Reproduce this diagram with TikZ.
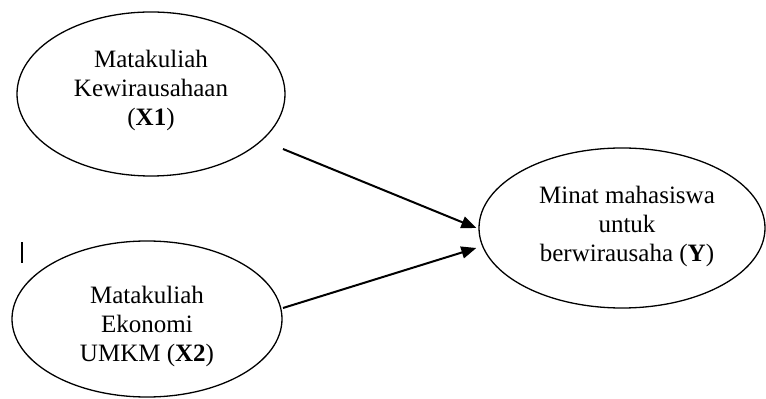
\documentclass[tikz,border=0pt]{standalone}
\usepackage{fontspec}
\setmainfont{Liberation Serif}
\usetikzlibrary{positioning}
\usetikzlibrary{shapes}
\usetikzlibrary{calc}
\usetikzlibrary{arrows.meta}

\begin{document}
\begin{tikzpicture}[x=1pt, y=1pt, n/.style={ellipse, draw, line width=1.3pt, inner sep=0pt}, t/.style={align=center, inner sep=0pt, font=\fontsize{25pt}{29pt}\selectfont}, arr/.style={-{Triangle[length=15pt, width=12pt]}, line width=2pt}]
        \useasboundingbox (0, 0) rectangle (766, 399);

        \node[n, minimum width=268, minimum height=164] (x1) at (151, 305) {};
        \node[n, minimum width=270, minimum height=156] (x2) at (147, 80) {};
        \node[n, minimum width=286, minimum height=160] (y) at (622, 171) {};

        \node[t] (x1t) at ([yshift=4]x1.center) {Matakuliah\\Kewirausahaan\\(\textbf{X1})};
        \node[t] (x2t) at ([yshift=-7]x2.center) {Matakuliah\\Ekonomi\\UMKM (\textbf{X2})};
        \node[t] (yt) at ([xshift=5, yshift=2]y.center) {Minat mahasiswa\\untuk\\berwirausaha (\textbf{Y})};

        \coordinate (s1) at (283, 250);
        \coordinate (s2) at (283, 91);
        \coordinate (t2) at ($(y.west)+(-2, -20)$);

        \draw[arr] (s1) -- ([xshift=-2pt]y.west);
        \draw[arr] (s2) -- (t2);

        \draw[line width=1.3pt] (22, 136) -- (22, 157);
    \end{tikzpicture}
\end{document}
